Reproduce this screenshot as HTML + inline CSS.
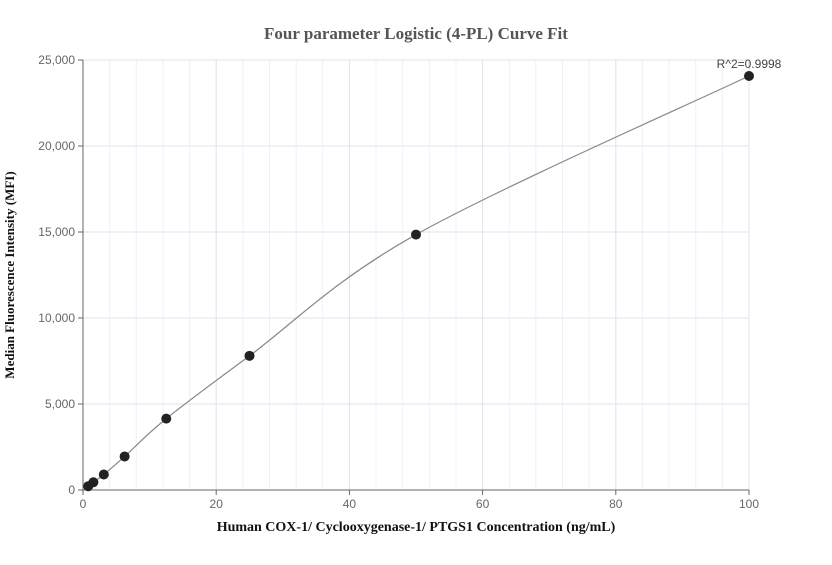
<!DOCTYPE html>
<html><head><meta charset="utf-8"><style>
body{margin:0;background:#fff;width:832px;height:560px;overflow:hidden}
svg text{font-family:"Liberation Sans",sans-serif}
</style></head><body>
<svg id="s" width="832" height="560" xmlns="http://www.w3.org/2000/svg">
<text x="416" y="39" text-anchor="middle" font-family="Liberation Serif" style="font-family:'Liberation Serif',serif" font-weight="bold" font-size="17" fill="#555">Four parameter Logistic (4-PL) Curve Fit</text>
<g id="grid"></g>
<line x1="83" y1="60" x2="83" y2="490" stroke="#666"/>
<line x1="83" y1="490" x2="749" y2="490" stroke="#666"/>
<g id="ticks" font-size="12" fill="#666"></g>
<path id="curve" fill="none" stroke="#888" stroke-width="1.2"/>
<g id="pts" fill="#222"></g>
<text x="749" y="68" text-anchor="middle" font-size="12" fill="#444">R^2=0.9998</text>
<text x="416" y="531" text-anchor="middle" style="font-family:'Liberation Serif',serif" font-weight="bold" font-size="14" fill="#111">Human COX-1/ Cyclooxygenase-1/ PTGS1 Concentration (ng/mL)</text>
<text transform="translate(14,275) rotate(-90)" text-anchor="middle" style="font-family:'Liberation Serif',serif" font-weight="bold" font-size="13" fill="#111">Median Fluorescence Intensity (MFI)</text>
</svg>
<script>
var NS="http://www.w3.org/2000/svg";
function X(v){return 83+v*6.66}function Y(v){return 490-v*0.0172}
function el(t,a,p){var e=document.createElementNS(NS,t);for(var k in a)e.setAttribute(k,a[k]);p.appendChild(e);return e}
var g=document.getElementById('grid'),tk=document.getElementById('ticks');
for(var i=1;i<=25;i++){var x=X(i*4);el('line',{x1:x,y1:60,x2:x,y2:490,stroke:i%5==0?'#dde3ef':'#eef1f8'},g)}
for(var j=1;j<=5;j++){var y=Y(j*5000);el('line',{x1:83,y1:y,x2:749,y2:y,stroke:'#dde3ef'},g)}
for(var j=0;j<=5;j++){var y=Y(j*5000);el('line',{x1:78,y1:y,x2:83,y2:y,stroke:'#666'},tk);var t=el('text',{x:75,y:y+4,'text-anchor':'end'},tk);t.textContent=(j*5000).toLocaleString('en-US')}
for(var i=0;i<=5;i++){var x=X(i*20);el('line',{x1:x,y1:490,x2:x,y2:495,stroke:'#666'},tk);var t=el('text',{x:x,y:508,'text-anchor':'middle'},tk);t.textContent=i*20}
var P=[[0.78,220],[1.56,450],[3.125,900],[6.25,1950],[12.5,4150],[25,7800],[50,14850],[100,24070]];
var q=P.map(function(p){return[X(p[0]),Y(p[1])]});
var d="M"+q[0][0]+","+q[0][1];
for(var k=0;k<q.length-1;k++){var p0=q[k-1]||q[k],p1=q[k],p2=q[k+1],p3=q[k+2]||p2;
d+=" C"+(p1[0]+(p2[0]-p0[0])/6)+","+(p1[1]+(p2[1]-p0[1])/6)+" "+(p2[0]-(p3[0]-p1[0])/6)+","+(p2[1]-(p3[1]-p1[1])/6)+" "+p2[0]+","+p2[1]}
document.getElementById('curve').setAttribute('d',d);
var pg=document.getElementById('pts');q.forEach(function(p){el('circle',{cx:p[0],cy:p[1],r:5},pg)});
</script>
</body></html>
